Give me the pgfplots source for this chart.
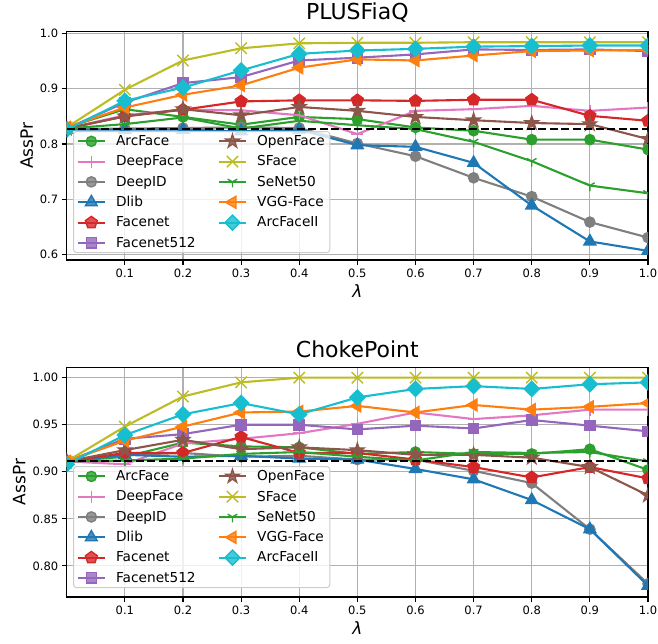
\documentclass[border=0pt]{standalone}
\usepackage{fontspec}
\setmainfont{DejaVu Sans}
\usepackage{pgfplots}
\usepackage{pgfplotstable}
\pgfplotsset{compat=1.18}
\usetikzlibrary{plotmarks}

\definecolor{tblue}{HTML}{1F77B4}
\definecolor{torange}{HTML}{FF7F0E}
\definecolor{tgreen}{HTML}{2CA02C}
\definecolor{tred}{HTML}{D62728}
\definecolor{tpurple}{HTML}{9467BD}
\definecolor{tbrown}{HTML}{8C564B}
\definecolor{tpink}{HTML}{E377C2}
\definecolor{tgray}{HTML}{7F7F7F}
\definecolor{tolive}{HTML}{BCBD22}
\definecolor{tcyan}{HTML}{17BECF}
\definecolor{gridgray}{HTML}{B0B0B0}

% filled five-pointed star (matplotlib '*')
\pgfdeclareplotmark{fstar}{%
  \pgfpathmoveto{\pgfpointpolar{90}{\pgfplotmarksize}}%
  \pgfpathlineto{\pgfpointpolar{126}{0.382*\pgfplotmarksize}}%
  \pgfpathlineto{\pgfpointpolar{162}{\pgfplotmarksize}}%
  \pgfpathlineto{\pgfpointpolar{198}{0.382*\pgfplotmarksize}}%
  \pgfpathlineto{\pgfpointpolar{234}{\pgfplotmarksize}}%
  \pgfpathlineto{\pgfpointpolar{270}{0.382*\pgfplotmarksize}}%
  \pgfpathlineto{\pgfpointpolar{306}{\pgfplotmarksize}}%
  \pgfpathlineto{\pgfpointpolar{342}{0.382*\pgfplotmarksize}}%
  \pgfpathlineto{\pgfpointpolar{18}{\pgfplotmarksize}}%
  \pgfpathlineto{\pgfpointpolar{54}{0.382*\pgfplotmarksize}}%
  \pgfpathclose
  \pgfusepathqfillstroke}

\pgfplotstableread{
lam  ArcFace DeepFace DeepID Dlib  Facenet Facenet512 OpenFace SFace SeNet50 VGG   ArcFaceII
0.0  0.830   0.828    0.828  0.826 0.828   0.828      0.828    0.830 0.828   0.830 0.826
0.1  0.863   0.852    0.828  0.826 0.850   0.875      0.850    0.898 0.836   0.866 0.878
0.2  0.849   0.862    0.829  0.826 0.862   0.910      0.863    0.951 0.848   0.889 0.902
0.3  0.835   0.861    0.830  0.823 0.877   0.921      0.852    0.973 0.828   0.906 0.933
0.4  0.849   0.852    0.829  0.826 0.879   0.951      0.867    0.982 0.842   0.938 0.963
0.5  0.845   0.818    0.801  0.798 0.879   0.956      0.860    0.983 0.834   0.953 0.969
0.6  0.830   0.860    0.778  0.795 0.878   0.962      0.849    0.983 0.827   0.951 0.972
0.7  0.824   0.863    0.739  0.766 0.880   0.971      0.843    0.984 0.804   0.960 0.976
0.8  0.808   0.869    0.705  0.689 0.880   0.970      0.838    0.984 0.769   0.968 0.977
0.9  0.808   0.860    0.659  0.624 0.851   0.971      0.836    0.984 0.725   0.969 0.978
1.0  0.790   0.866    0.631  0.607 0.842   0.968      0.809    0.984 0.711   0.970 0.978
}\dataA

\pgfplotstableread{
lam  ArcFace DeepFace DeepID Dlib  Facenet Facenet512 OpenFace SFace SeNet50 VGG   ArcFaceII
0.0  0.911   0.911    0.911  0.911 0.911   0.911      0.911    0.911 0.911   0.911 0.908
0.1  0.916   0.908    0.918  0.918 0.920   0.935      0.923    0.948 0.912   0.933 0.939
0.2  0.931   0.930    0.920  0.916 0.920   0.940      0.934    0.980 0.914   0.948 0.961
0.3  0.927   0.935    0.916  0.917 0.937   0.950      0.924    0.995 0.919   0.963 0.973
0.4  0.926   0.941    0.917  0.914 0.920   0.950      0.926    1.000 0.921   0.964 0.961
0.5  0.919   0.951    0.913  0.913 0.920   0.945      0.923    1.000 0.916   0.970 0.979
0.6  0.921   0.963    0.913  0.903 0.913   0.949      0.918    1.000 0.912   0.963 0.988
0.7  0.919   0.956    0.901  0.892 0.905   0.946      0.918    1.000 0.921   0.971 0.991
0.8  0.919   0.960    0.888  0.870 0.894   0.955      0.915    1.000 0.920   0.966 0.988
0.9  0.924   0.966    0.839  0.839 0.905   0.949      0.905    1.000 0.921   0.969 0.993
1.0  0.902   0.966    0.781  0.779 0.893   0.943      0.875    1.000 0.911   0.973 0.995
}\dataB

\pgfplotsset{
  sArcFace/.style={color=tgreen, line width=2.1pt, mark=*, mark size=5.1pt, mark options={solid, line width=1.4pt}},
  sDeepFace/.style={color=tpink, line width=2.1pt, mark=+, mark size=6pt, mark options={solid, line width=1.4pt}},
  sDeepID/.style={color=tgray, line width=2.1pt, mark=*, mark size=5.1pt, mark options={solid, line width=1.4pt}},
  sDlib/.style={color=tblue, line width=2.1pt, mark=triangle*, mark size=6.8pt, mark options={solid, line width=1.4pt}},
  sFacenet/.style={color=tred, line width=2.1pt, mark=pentagon*, mark size=6.2pt, mark options={solid, line width=1.4pt}},
  sFacenet512/.style={color=tpurple, line width=2.1pt, mark=square*, mark size=5.1pt, mark options={solid, line width=1.4pt}},
  sOpenFace/.style={color=tbrown, line width=2.1pt, mark=fstar, mark size=7pt, mark options={solid, line width=1.4pt}},
  sSFace/.style={color=tolive, line width=2.1pt, mark=x, mark size=8pt, mark options={solid, line width=1.4pt}},
  sSeNet50/.style={color=tgreen, line width=2.1pt, mark=Mercedes star flipped, mark size=5.5pt, mark options={solid, line width=1.4pt}},
  sVGG/.style={color=torange, line width=2.1pt, mark=triangle*, mark size=6.8pt, mark options={solid, line width=1.4pt, rotate=90}},
  sArcFaceII/.style={color=tcyan, line width=2.1pt, mark=square*, mark size=5.3pt, mark options={solid, line width=1.4pt, rotate=45}},
  panel/.style={
    scale only axis, width=581.3pt,
    xmin=0, xmax=1,
    xtick={0.1,0.2,0.3,0.4,0.5,0.6,0.7,0.8,0.9,1.0},
    grid=major, grid style={line width=1.1pt, color=gridgray},
    axis line style={line width=1.1pt},
    tick style={line width=1.1pt, black},
    major tick length=5pt,
    tick align=outside, tick pos=left,
    /pgf/number format/assume math mode=true,
    tick label style={font=\fontsize{11.5}{13}\selectfont},
    xticklabel style={/pgf/number format/.cd, fixed, fixed zerofill, precision=1},
    xlabel={\itshape λ}, ylabel={AssPr},
    label style={font=\fontsize{17}{20}\selectfont},
    title style={font=\fontsize{22}{26}\selectfont},
    clip marker paths=true,
    legend columns=2,
    legend cell align=left,
    legend image code/.code={\draw[mark repeat=2, mark phase=2, ##1] plot coordinates {(0pt,0pt) (13.7pt,0pt) (27.4pt,0pt)};},
    legend style={anchor=north west, draw=black!20, line width=1pt, rounded corners=3pt,
      fill=white, fill opacity=0.8, text opacity=1,
      font=\fontsize{13.7}{16}\selectfont, row sep=4.6pt,
      /tikz/every odd column/.append style={column sep=8pt},
      /tikz/every even column/.append style={column sep=20pt}},
  },
}

\begin{document}
\begin{tikzpicture}
\useasboundingbox (0,0) rectangle (658pt,643pt);

% ---------- PLUSFiaQ ----------
\begin{axis}[panel, at={(66.7pt,383pt)}, anchor=south west, height=228.3pt,
  title={PLUSFiaQ},
  ymin=0.5905, ymax=1.003, ytick={0.6,0.7,0.8,0.9,1.0},
  yticklabel style={/pgf/number format/.cd, fixed, fixed zerofill, precision=1},
  legend style={at={(0.011,0.565)}}]
\addplot[sArcFace, forget plot] table[x=lam, y=ArcFace] {\dataA};
\addplot[sDeepFace, forget plot] table[x=lam, y=DeepFace] {\dataA};
\addplot[sDeepID, forget plot] table[x=lam, y=DeepID] {\dataA};
\addplot[sDlib, forget plot] table[x=lam, y=Dlib] {\dataA};
\addplot[sFacenet, forget plot] table[x=lam, y=Facenet] {\dataA};
\addplot[sFacenet512, forget plot] table[x=lam, y=Facenet512] {\dataA};
\addplot[sOpenFace, forget plot] table[x=lam, y=OpenFace] {\dataA};
\addplot[sSFace, forget plot] table[x=lam, y=SFace] {\dataA};
\addplot[sSeNet50, forget plot] table[x=lam, y=SeNet50] {\dataA};
\addplot[sVGG, forget plot] table[x=lam, y=VGG] {\dataA};
\addplot[sArcFaceII, forget plot] table[x=lam, y=ArcFaceII] {\dataA};
\addplot[black, line width=2.1pt, dash pattern=on 8pt off 3.5pt, mark=none, forget plot] coordinates {(0,0.828) (1,0.828)};
\addlegendimage{sArcFace}\addlegendentry{ArcFace}
\addlegendimage{sOpenFace}\addlegendentry{OpenFace}
\addlegendimage{sDeepFace}\addlegendentry{DeepFace}
\addlegendimage{sSFace}\addlegendentry{SFace}
\addlegendimage{sDeepID}\addlegendentry{DeepID}
\addlegendimage{sSeNet50}\addlegendentry{SeNet50}
\addlegendimage{sDlib}\addlegendentry{Dlib}
\addlegendimage{sVGG}\addlegendentry{VGG-Face}
\addlegendimage{sFacenet}\addlegendentry{Facenet}
\addlegendimage{sArcFaceII}\addlegendentry{ArcFaceII}
\addlegendimage{sFacenet512}\addlegendentry{Facenet512}
\end{axis}

% ---------- ChokePoint ----------
\begin{axis}[panel, at={(66.7pt,46pt)}, anchor=south west, height=229.7pt,
  title={ChokePoint},
  ymin=0.767, ymax=1.011, ytick={0.80,0.85,0.90,0.95,1.00},
  yticklabel style={/pgf/number format/.cd, fixed, fixed zerofill, precision=2},
  legend style={at={(0.011,0.570)}}]
\addplot[sArcFace, forget plot] table[x=lam, y=ArcFace] {\dataB};
\addplot[sDeepFace, forget plot] table[x=lam, y=DeepFace] {\dataB};
\addplot[sDeepID, forget plot] table[x=lam, y=DeepID] {\dataB};
\addplot[sDlib, forget plot] table[x=lam, y=Dlib] {\dataB};
\addplot[sFacenet, forget plot] table[x=lam, y=Facenet] {\dataB};
\addplot[sFacenet512, forget plot] table[x=lam, y=Facenet512] {\dataB};
\addplot[sOpenFace, forget plot] table[x=lam, y=OpenFace] {\dataB};
\addplot[sSFace, forget plot] table[x=lam, y=SFace] {\dataB};
\addplot[sSeNet50, forget plot] table[x=lam, y=SeNet50] {\dataB};
\addplot[sVGG, forget plot] table[x=lam, y=VGG] {\dataB};
\addplot[sArcFaceII, forget plot] table[x=lam, y=ArcFaceII] {\dataB};
\addplot[black, line width=2.1pt, dash pattern=on 8pt off 3.5pt, mark=none, forget plot] coordinates {(0,0.911) (1,0.911)};
\addlegendimage{sArcFace}\addlegendentry{ArcFace}
\addlegendimage{sOpenFace}\addlegendentry{OpenFace}
\addlegendimage{sDeepFace}\addlegendentry{DeepFace}
\addlegendimage{sSFace}\addlegendentry{SFace}
\addlegendimage{sDeepID}\addlegendentry{DeepID}
\addlegendimage{sSeNet50}\addlegendentry{SeNet50}
\addlegendimage{sDlib}\addlegendentry{Dlib}
\addlegendimage{sVGG}\addlegendentry{VGG-Face}
\addlegendimage{sFacenet}\addlegendentry{Facenet}
\addlegendimage{sArcFaceII}\addlegendentry{ArcFaceII}
\addlegendimage{sFacenet512}\addlegendentry{Facenet512}
\end{axis}
\end{tikzpicture}
\end{document}
